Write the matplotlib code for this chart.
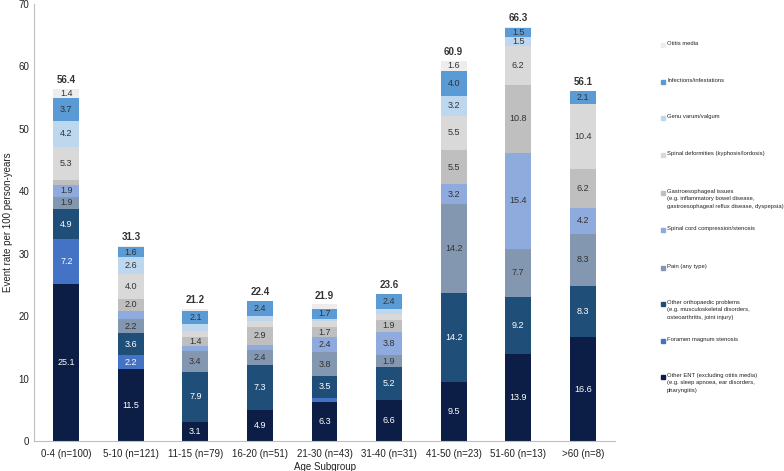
import matplotlib
matplotlib.use('Agg')
import matplotlib.pyplot as plt
from matplotlib.patches import Rectangle
import numpy as np

plt.rcParams['font.family'] = ['Liberation Sans', 'DejaVu Sans']

groups = ['0-4 (n=100)', '5-10 (n=121)', '11-15 (n=79)', '16-20 (n=51)', '21-30 (n=43)',
          '31-40 (n=31)', '41-50 (n=23)', '51-60 (n=13)', '>60 (n=8)']

# stacking order, bottom to top
other_ent = [25.1, 11.5, 3.1, 4.9, 6.3, 6.6, 9.5, 13.9, 16.6]
foramen = [7.2, 2.2, 0, 0, 0.6, 0, 0, 0, 0]
ortho = [4.9, 3.6, 7.9, 7.3, 3.5, 5.2, 14.2, 9.2, 8.3]
pain = [1.9, 2.2, 3.4, 2.4, 3.8, 1.9, 14.2, 7.7, 8.3]
spinal_cord = [1.9, 1.3, 0.8, 0.8, 2.4, 3.8, 3.2, 15.4, 4.2]
gastro = [0.8, 2.0, 1.4, 2.9, 1.7, 1.9, 5.5, 10.8, 6.2]
spinal_def = [5.3, 4.0, 1.1, 1.0, 1.0, 1.0, 5.5, 6.2, 10.4]
genu = [4.2, 2.6, 1.1, 0.7, 0.2, 0.8, 3.2, 1.5, 0]
infections = [3.7, 1.6, 2.1, 2.4, 1.7, 2.4, 4.0, 1.5, 2.1]
otitis = [1.4, 0.3, 0.3, 0, 0.7, 0, 1.6, 0.1, 0]
totals = [56.4, 31.3, 21.2, 22.4, 21.9, 23.6, 60.9, 66.3, 56.1]

series = [other_ent, foramen, ortho, pain, spinal_cord, gastro, spinal_def, genu, infections, otitis]
names = ['Other ENT (excluding otitis media)\n(e.g. sleep apnoea, ear disorders,\npharyngitis)',
         'Foramen magnum stenosis',
         'Other orthopaedic problems\n(e.g. musculoskeletal disorders,\nosteoarthritis, joint injury)',
         'Pain (any type)',
         'Spinal cord compression/stenosis',
         'Gastroesophageal issues\n(e.g. inflammatory bowel disease,\ngastroesophageal reflux disease, dyspepsia)',
         'Spinal deformities (kyphosis/lordosis)',
         'Genu varum/valgum',
         'Infections/infestations',
         'Otitis media']
colors = ['#0C1E46', '#4472C4', '#1F4E79', '#8497B0', '#8FAADC',
          '#BFBFBF', '#D9D9D9', '#BDD7EE', '#5B9BD5', '#EDEDED']
txt_colors = ['white', 'white', 'white', '#333333', '#333333',
              '#333333', '#333333', '#333333', '#333333', '#333333']

fig = plt.figure(figsize=(7.84, 4.71), dpi=100)
ax = fig.add_axes([34/784, 1-441/471, 581/784, 437/471])

x = np.arange(len(groups))
bottom = np.zeros(len(groups))
for vals, c, tc in zip(series, colors, txt_colors):
    vals = np.array(vals, dtype=float)
    ax.bar(x, vals, 0.4, bottom=bottom, color=c, edgecolor='none')
    for i, v in enumerate(vals):
        if v >= 1.4:
            ax.text(x[i], bottom[i] + v/2, f'{v:.1f}', ha='center', va='center',
                    fontsize=6.5, color=tc)
    bottom += vals

for i, t in enumerate(totals):
    ax.text(x[i], t + 0.6, f'{t:.1f}', ha='center', va='bottom', fontsize=7,
            fontweight='bold', color='#333333')

ax.set_xlim(-0.5, 8.5)
ax.set_ylim(0, 70)
ax.set_yticks(range(0, 71, 10))
ax.set_xticks(x)
ax.set_xticklabels(groups)
ax.tick_params(axis='both', length=0, labelsize=7, colors='#222222')
ax.tick_params(axis='x', pad=6)
for s in ['top', 'right']:
    ax.spines[s].set_visible(False)
for s in ['left', 'bottom']:
    ax.spines[s].set_color('#BFBFBF')
    ax.spines[s].set_linewidth(0.8)
ax.set_xlabel('Age Subgroup', fontsize=7, color='#222222', labelpad=2)
ax.set_ylabel('Event rate per 100 person-years', fontsize=7, color='#222222')
ax.yaxis.set_label_coords(-0.036, 0.5)

# legend drawn by hand, top to bottom
leg_y = [45, 82, 118, 155, 193, 230, 268, 304, 341, 377]
for k, yy in enumerate(leg_y):
    j = len(series) - 1 - k
    fy = 1 - yy/471
    fig.patches.append(Rectangle((661/784, fy - 2/471), 4/784, 4/471,
                                 transform=fig.transFigure, color=colors[j]))
    fig.text(667/784, fy + 4/471, names[j], ha='left', va='top', fontsize=4.2,
             color='#222222', linespacing=1.6)

plt.savefig('out.png', dpi=100)
